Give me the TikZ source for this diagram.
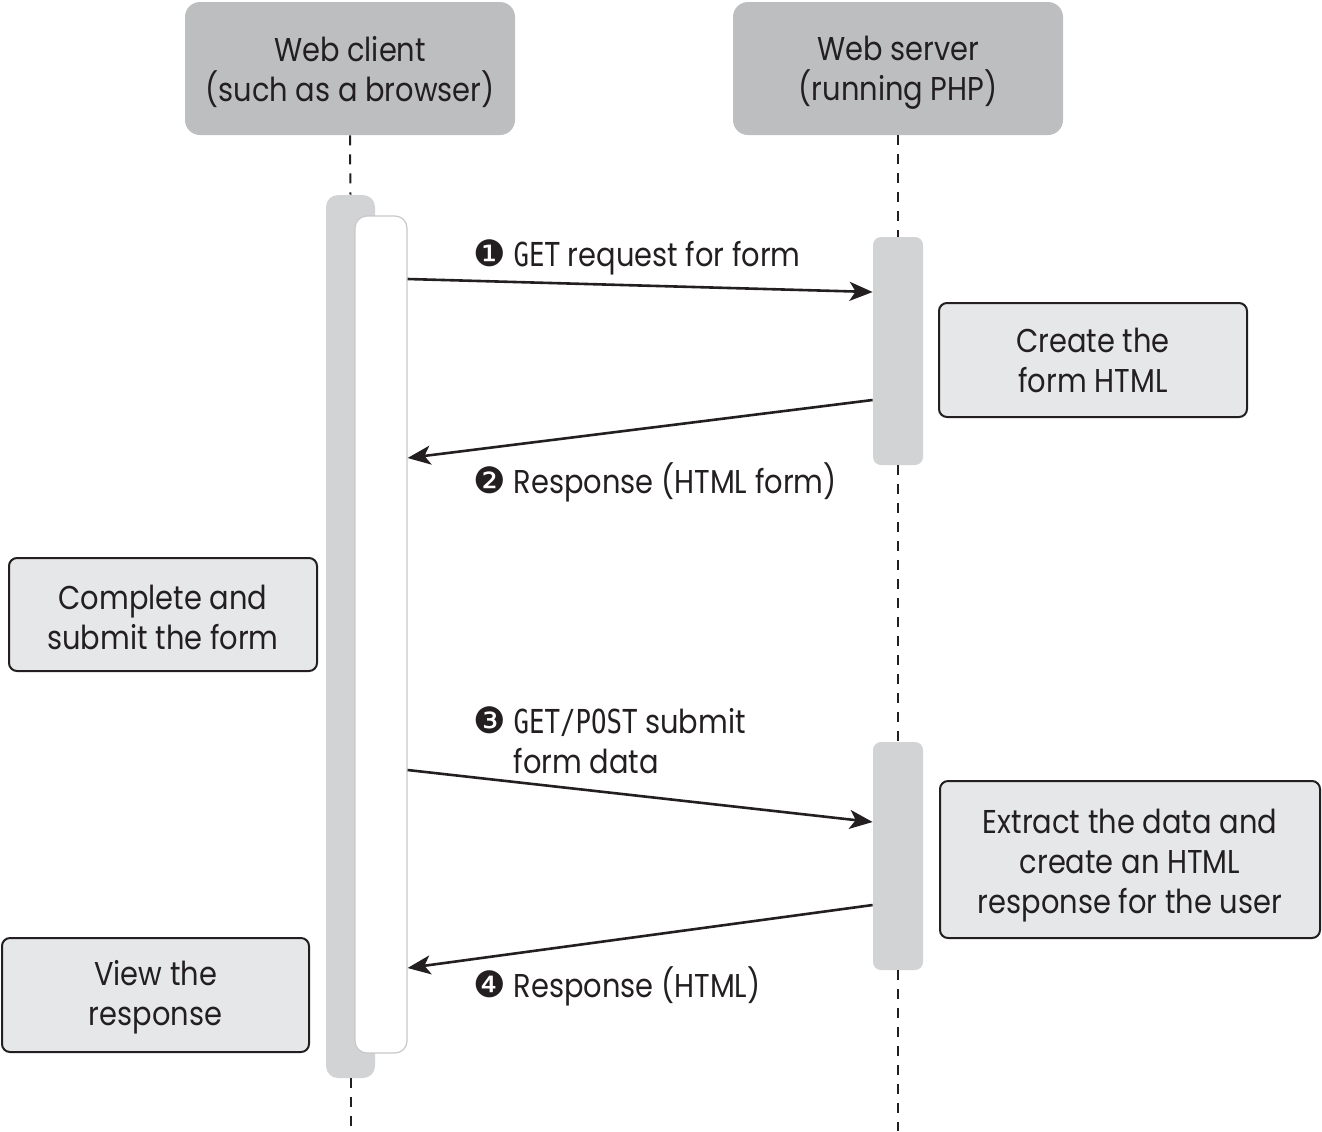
\documentclass[tikz,border=0pt]{standalone}
\usepackage{fontspec}
\setmainfont{Poppins}[FakeStretch=0.875]
\newfontfamily\codefont{DejaVu Sans Mono}[FakeStretch=0.78]
\newfontfamily\dingfont{DejaVu Sans}[Scale=1.1]
\usetikzlibrary{arrows.meta}

\definecolor{hdrgray}{RGB}{189,190,192}
\definecolor{bargray}{RGB}{210,211,213}
\definecolor{boxgray}{RGB}{230,231,233}
\definecolor{edgegray}{RGB}{200,200,202}
\definecolor{ink}{RGB}{35,31,32}

\newcommand{\stepno}[1]{{\dingfont #1}}
\newcommand{\code}[1]{{\codefont #1}}

\tikzset{
  every node/.style={font=\fontsize{16.5}{20}\selectfont, text=ink},
  header/.style={fill=hdrgray, rounded corners=7.5pt, inner sep=0pt, text depth=0pt,
                 minimum width=165pt, minimum height=66.5pt, align=center},
  outerbar/.style={fill=bargray, rounded corners=6pt, inner sep=0pt},
  innerbar/.style={fill=white, draw=edgegray, line width=0.6pt,
                   rounded corners=6pt, inner sep=0pt},
  srvbar/.style={fill=bargray, rounded corners=4pt, inner sep=0pt,
                 minimum width=25pt, minimum height=114pt},
  actbox/.style={fill=boxgray, draw=ink, line width=1pt, rounded corners=4pt,
                 inner sep=0pt, text depth=0pt, align=center},
  boxtext/.style={align=center, inner sep=0pt, text depth=0pt},
  lifeline/.style={draw=ink, line width=1pt, dash pattern=on 5pt off 4.5pt},
  msg/.style={draw=ink, line width=1.3pt,
              -{Stealth[length=11.5pt, width=9.5pt, inset=3pt]}},
  msglabel/.style={anchor=base west, inner sep=0pt, align=left},
}

\begin{document}
\begin{tikzpicture}[x=0.5pt, y=-0.5pt]
  \useasboundingbox (0,0) rectangle (1322,1131);

  % participants
  \node[header] (client) at (350,68.5) {Web client\\(such as a browser)};
  \node[header] (server) at (898,68.5) {Web server\\(running PHP)};

  % activation bars
  \node[outerbar, minimum width=24.5pt, minimum height=441.5pt] (cbar) at (350.5,636.5) {};
  \node[innerbar, minimum width=26pt, minimum height=418.5pt] (cin) at (381,634.5) {};
  \node[srvbar] (s1) at (898,351) {};
  \node[srvbar] (s2) at (898,856) {};

  % lifelines
  \draw[lifeline] (client.south) -- (cbar.north);
  \draw[lifeline] (cbar.south) -- (cbar.south |- 0,1131);
  \draw[lifeline] (server.south) -- (s1.north);
  \draw[lifeline] (s1.south) -- (s2.north);
  \draw[lifeline] (s2.south) -- (s2.south |- 0,1131);

  % processing steps
  \node[actbox, minimum width=154pt, minimum height=57pt] (mkform) at (1093,360)
    {Create the\\form HTML};
  \node[actbox, minimum width=154pt, minimum height=56.5pt] (fill) at (163,614.5) {};
  \node[boxtext] (filltext) at (163,617.5) {Complete and\\submit the form};
  \node[actbox, minimum width=190pt, minimum height=78.5pt] (extract) at (1130,859.5) {};
  \node[boxtext] (extracttext) at (1130,861)
    {Extract the data and\\create an HTML\\response for the user};
  \node[actbox, minimum width=153.5pt, minimum height=57pt] (view) at (155.5,995) {};
  \node[boxtext] (viewtext) at (155.5,993) {View the\\response};

  % messages
  \draw[msg] (cin.east |- 0,279) -- (s1.west |- 0,292);
  \draw[msg] (s1.west |- 0,400) -- (cin.east |- 0,458);
  \draw[msg] (cin.east |- 0,770) -- (s2.west |- 0,822);
  \draw[msg] (s2.west |- 0,905) -- (cin.east |- 0,968);

  \node[msglabel] (l1) at (473,266) {\stepno{❶} \code{GET} request for form};
  \node[msglabel] (l2) at (473,493) {\stepno{❷} Response (HTML form)};
  \node[msglabel] (l3) at (473,773)
    {\stepno{❸} \code{GET/POST} submit\\\phantom{\stepno{❸} }form data};
  \node[msglabel] (l4) at (473,997) {\stepno{❹} Response (HTML)};
\end{tikzpicture}
\end{document}
